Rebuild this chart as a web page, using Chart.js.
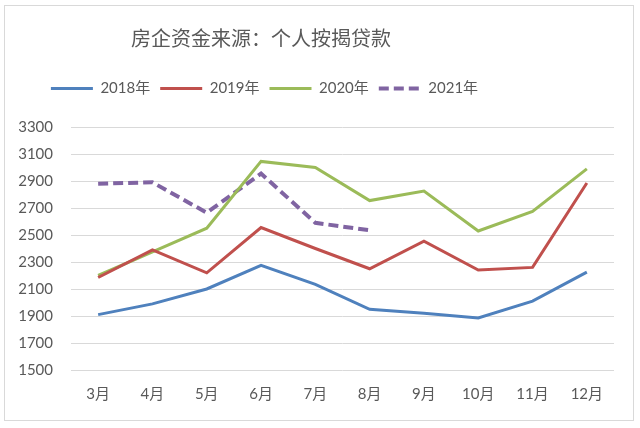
<!DOCTYPE html>
<html><head><meta charset="utf-8">
<script src="https://cdn.jsdelivr.net/npm/chart.js@4"></script>
<style>
html,body{margin:0;padding:0;background:#fff;}
#wrap{position:relative;width:640px;height:428px;}
#frame{position:absolute;left:4px;top:5px;width:628px;height:414px;border:1px solid #d9d9d9;pointer-events:none;}
canvas{position:absolute;left:0;top:0;}
</style></head><body>
<div id="wrap"><canvas id="c" width="640" height="428"></canvas><div id="frame"></div></div>
<script>
const categories = ['3月','4月','5月','6月','7月','8月','9月','10月','11月','12月'];
const s2018 = [1910,1990,2100,2275,2135,1950,1920,1885,2010,2225];
const s2019 = [2185,2390,2220,2555,2400,2250,2455,2240,2260,2885];
const s2020 = [2200,2375,2550,3045,3000,2755,2825,2530,2675,2990];
const s2021 = [2880,2890,2665,2955,2590,2535,null,null,null,null];
const seriesNames = ['2018年','2019年','2020年','2021年'];
const yMin = 1500, yMax = 3300, yStep = 200;

const FONT = "Lato, 'Noto Sans CJK SC', sans-serif";
Chart.defaults.font.family = FONT;
Chart.defaults.color = '#595959';

const layoutTweak = {
  id: 'layoutTweak',
  beforeLayout(chart) {
    const lg = chart.legend;
    if (lg && !lg._patched) {
      const orig = lg.fit;
      lg.fit = function() { orig.call(this); this.height += 21; };
      lg._patched = true;
    }
  },
  afterLayout(chart) {
    if (chart.titleBlock) { chart.titleBlock.left = 0; chart.titleBlock.right = 522; }
    if (chart.legend) { chart.legend.left = 0; chart.legend.right = 529; }
  }
};

new Chart(document.getElementById('c'), {
  type: 'line',
  data: {
    labels: categories,
    datasets: [
      {label: seriesNames[0], data: s2018, borderColor: '#4F81BD', backgroundColor: '#4F81BD', borderWidth: 3},
      {label: seriesNames[1], data: s2019, borderColor: '#C0504D', backgroundColor: '#C0504D', borderWidth: 3},
      {label: seriesNames[2], data: s2020, borderColor: '#9BBB59', backgroundColor: '#9BBB59', borderWidth: 3},
      {label: seriesNames[3], data: s2021, borderColor: '#8064A2', backgroundColor: '#8064A2', borderWidth: 4, borderDash: [10,5]}
    ]
  },
  plugins: [layoutTweak],
  options: {
    responsive: false,
    animation: false,
    elements: {point: {radius: 0, hoverRadius: 0}, line: {tension: 0}},
    layout: {padding: {left: 0, right: 26, top: 0, bottom: 0}},
    plugins: {
      title: {display: true, text: '房企资金来源：个人按揭贷款', color: '#595959',
        font: {size: 20, weight: 'normal', family: "'Noto Sans CJK SC', sans-serif"}, padding: {top: 26, bottom: 21}},
      legend: {display: true, labels: {usePointStyle: true, pointStyle: 'line', pointStyleWidth: 42,
        boxHeight: 14, font: {size: 15}, color: '#595959', padding: 10,
        generateLabels: chart => {
          const items = Chart.defaults.plugins.legend.labels.generateLabels(chart);
          items.forEach(it => {
            const ds = chart.data.datasets[it.datasetIndex];
            it.lineDash = ds.borderDash || [];
            it.lineWidth = ds.borderWidth;
            it.strokeStyle = ds.borderColor;
          });
          return items;
        }}},
      tooltip: {enabled: false}
    },
    scales: {
      x: {offset: true, grid: {display: false, drawTicks: false}, border: {display: false},
        ticks: {padding: 15, font: {size: 15}, color: '#595959'},
        afterFit: s => { s.height = 58; }},
      y: {min: yMin, max: yMax,
        ticks: {stepSize: yStep, padding: 18, font: {size: 15}, color: '#595959', callback: v => String(v)},
        grid: {color: '#d9d9d9', lineWidth: 1, drawTicks: false}, border: {display: false},
        afterFit: s => { s.width = 71; }}
    }
  }
});
</script>
</body></html>
